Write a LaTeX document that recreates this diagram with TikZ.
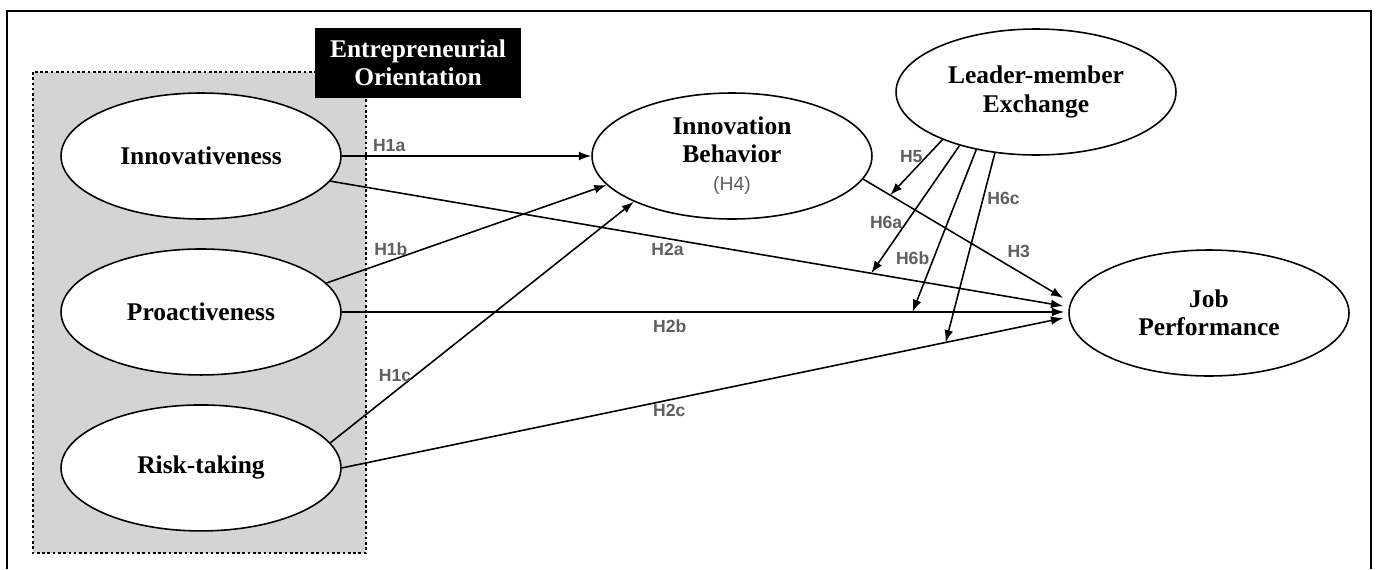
\documentclass[tikz,border=0pt]{standalone}
\usepackage{fontspec}
\setmainfont{Liberation Serif}
\setsansfont{Liberation Sans}
\usetikzlibrary{arrows.meta,shapes.geometric,calc}
\definecolor{boxgray}{RGB}{212,212,212}
\definecolor{hypgray}{RGB}{95,95,95}

\begin{document}
\begin{tikzpicture}[x=0.02cm,y=-0.02cm,->,>={Latex[length=7pt,width=5pt]},line width=0.9pt,node distance=3.12cm,
  construct/.style={ellipse,draw,fill=white,minimum width=5.6cm,minimum height=2.52cm,inner sep=0pt,
    align=center,font=\fontsize{14.5}{16}\selectfont\bfseries},
  hyp/.style={text=hypgray,inner sep=2pt,font=\sffamily\bfseries\fontsize{10}{12}\selectfont}]
  \useasboundingbox (0,0) rectangle (1376,569);

  % frame and EO block
  \draw[-,line width=0.8pt] (7,569) -- (7,11) -- (1371,11) -- (1371,569);
  \draw[-,line width=1.5pt,dash pattern=on 1.5pt off 1.5pt,fill=boxgray] (33,72) rectangle (366,553);
  \node[fill=black,text=white,minimum width=4.14cm,minimum height=1.42cm,align=center,
    font=\fontsize{14.5}{16}\selectfont\bfseries] (eo) at (418,63) {Entrepreneurial\\Orientation};

  \node[construct] (inno) at (201,156) {Innovativeness};
  \node[construct] (pro) [below of=inno] {Proactiveness};
  \node[construct] (risk) [below of=pro] {Risk-taking};
  \node[construct] (ib) at (732,156) {Innovation\\Behavior\\{\color{hypgray}\sffamily\mdseries\fontsize{11}{13}\selectfont (H4)}};
  \node[construct] (lmx) at (1036,92) {Leader-member\\Exchange};
  \node[construct] (jp) at (1209,313) {Job\\Performance};

  \coordinate (jph3) at ($(jp.west)+(-5,-15)$);
  \coordinate (jph2a) at ($(jp.west)+(-5,-7)$);
  \coordinate (jph2b) at ($(jp.west)+(-4,-1)$);
  \coordinate (jph2c) at ($(jp.west)+(-5,5)$);

  \path (inno) edge node[hyp,pos=0.19,above] {H1a} (ib)
        (inno.-11) edge node[hyp,pos=0.46,below] {H2a} node[coordinate,pos=0.738] (m2a) {} (jph2a)
        (pro.13) edge node[hyp,pos=0.23,above] {H1b} (ib.193)
        (pro.east) edge node[hyp,pos=0.454,below,yshift=-2pt] {H2b} node[coordinate,pos=0.79] (m2b) {} (jph2b)
        (risk.11) edge node[hyp,pos=0.28,left] {H1c} (ib.205)
        (risk.east) edge node[hyp,pos=0.454,below] {H2c} node[coordinate,pos=0.837] (m2c) {} (jph2c)
        (ib.-10) edge node[hyp,pos=0.7,above right] {H3} node[coordinate,pos=0.135] (m5) {} (jph3);

  \path (lmx.207) edge node[hyp,pos=0.3,left] {H5} (m5)
        (lmx.215) edge node[hyp,pos=0.6,left] {H6a} (m2a)
        (lmx.224) edge node[hyp,pos=0.67,left] {H6b} (m2b)
        (lmx.236) edge node[hyp,pos=0.24,right] {H6c} (m2c);
\end{tikzpicture}
\end{document}
